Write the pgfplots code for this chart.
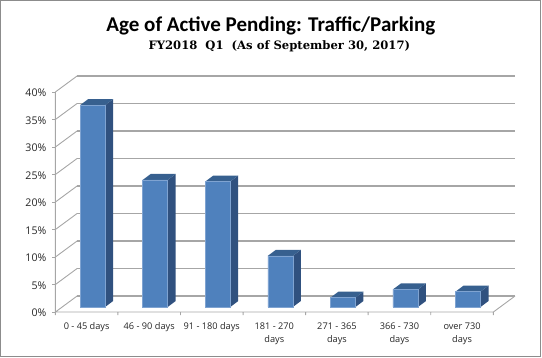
\documentclass[border=0pt]{standalone}
\usepackage{fontspec}
\setmainfont{Open Sans}
\newfontfamily\titlefont{Carlito}
\newfontfamily\subfont{DejaVu Serif}
\usepackage{pgfplots}
\pgfplotsset{compat=1.18}
\definecolor{frontc}{HTML}{4F81BD}
\definecolor{edgec}{HTML}{7FA3D1}
\definecolor{sidec}{HTML}{30517F}
\definecolor{topc}{HTML}{37608F}
\definecolor{gridc}{HTML}{A6A6A6}
\definecolor{framec}{HTML}{8C8C8C}
\definecolor{txtc}{HTML}{262626}
% L, L+dx, R, R+dx, value, value+dy  (dx = bar depth in x, dy = bar depth in y)
\newcommand{\depthfaces}[6]{%
  \addplot[fill=sidec,draw=none,yshift=5pt,forget plot] coordinates {(#3,0)(#4,1.09)(#4,#6)(#3,#5)} --cycle;
  \addplot[fill=topc,draw=none,yshift=5pt,forget plot] coordinates {(#1,#5)(#2,#6)(#4,#6)(#3,#5)} --cycle;
}
\begin{document}
\begin{tikzpicture}[x=1pt,y=1pt]
\begin{axis}[
  scale only axis, width=437.9pt, height=220pt,
  xmin=0, xmax=7, ymin=0, ymax=40,
  clip=false,
  axis line style={draw=none},
  /pgf/number format/assume math mode=true,
  ytick={0,5,...,40},
  yticklabel={\pgfmathprintnumber{\tick}\%},
  yticklabel style={font=\fontsize{10.6}{12}\selectfont,text=txtc,xshift=-2.5pt,yshift=-1pt},
  xtick={0.5,1.5,2.5,3.5,4.5,5.5,6.5},
  xticklabels={0 - 45 days,46 - 90 days,91 - 180 days,181 - 270\\days,271 - 365\\days,366 - 730\\days,over 730\\days},
  xticklabel style={font=\fontsize{9.2}{13}\selectfont,text=txtc,align=center,yshift=-4pt,anchor=north},
  x tick style={draw=none},
  y tick style={draw=gridc,line width=0.9pt},
  major tick length=3pt,
  tick align=outside,
  tick pos=left,
  unbounded coords=jump,
  no markers,
]
% back grid lines, left wall diagonals
\addplot[draw=gridc,line width=1.3pt,forget plot] coordinates {
 (0.347,2.91)(7.347,2.91)(nan,nan)
 (0.347,7.91)(7.347,7.91)(nan,nan)
 (0.347,12.91)(7.347,12.91)(nan,nan)
 (0.347,17.91)(7.347,17.91)(nan,nan)
 (0.347,22.91)(7.347,22.91)(nan,nan)
 (0.347,27.91)(7.347,27.91)(nan,nan)
 (0.347,32.91)(7.347,32.91)(nan,nan)
 (0.347,37.91)(7.347,37.91)(nan,nan)
 (0.347,42.91)(7.347,42.91)};
\addplot[draw=gridc,line width=0.9pt,forget plot] coordinates {
 (0,0)(0.347,2.91)(nan,nan)
 (0,5)(0.347,7.91)(nan,nan)
 (0,10)(0.347,12.91)(nan,nan)
 (0,15)(0.347,17.91)(nan,nan)
 (0,20)(0.347,22.91)(nan,nan)
 (0,25)(0.347,27.91)(nan,nan)
 (0,30)(0.347,32.91)(nan,nan)
 (0,35)(0.347,37.91)(nan,nan)
 (0,40)(0.347,42.91)(nan,nan)
 (0,0)(0,40)(nan,nan)
 (0,0)(7,0)(7.347,2.91)(nan,nan)
 (0,0)(0,-0.55)(nan,nan)
 (1,0)(1,-0.55)(nan,nan)
 (2,0)(2,-0.55)(nan,nan)
 (3,0)(3,-0.55)(nan,nan)
 (4,0)(4,-0.55)(nan,nan)
 (5,0)(5,-0.55)(nan,nan)
 (6,0)(6,-0.55)(nan,nan)
 (7,0)(7,-0.55)};
% bar depth faces
\depthfaces{0.395}{0.523}{0.795}{0.923}{36.7}{37.79}
\depthfaces{1.395}{1.523}{1.795}{1.923}{23.1}{24.19}
\depthfaces{2.395}{2.523}{2.795}{2.923}{22.8}{23.89}
\depthfaces{3.395}{3.523}{3.795}{3.923}{9.3}{10.39}
\depthfaces{4.395}{4.523}{4.795}{4.923}{1.7}{2.79}
\depthfaces{5.395}{5.523}{5.795}{5.923}{3.2}{4.29}
\depthfaces{6.395}{6.523}{6.795}{6.923}{2.8}{3.89}
% bar fronts
\addplot[ybar,bar width=0.4,bar shift=0pt,fill=frontc,draw=edgec,line width=0.5pt,yshift=5pt] table {
x y
0.595 36.7
1.595 23.1
2.595 22.8
3.595 9.3
4.595 1.7
5.595 3.2
6.595 2.8
};
% frame and titles (axis-data position of the picture corners)
\draw[framec,line width=1.2pt] (axis cs:-0.875,-8.05) rectangle (axis cs:7.755,56.6);
\path (axis cs:-0.884,-8.18) rectangle (axis cs:7.778,56.727);
\node[font=\titlefont\bfseries\fontsize{21}{24}\selectfont,text=black,anchor=center] at (axis cs:3.445,52) {Age of Active Pending: Traffic/Parking};
\node[font=\subfont\bfseries\fontsize{11.6}{15}\selectfont,text=black,anchor=center] at (axis cs:3.58,48.4) {FY2018\ \ Q1\ \ (As of September 30, 2017)};
\end{axis}
\end{tikzpicture}
\end{document}
